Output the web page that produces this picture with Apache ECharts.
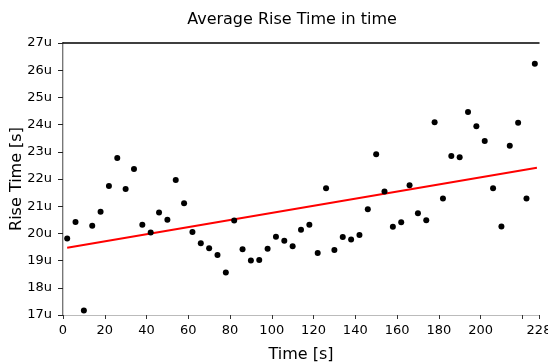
<!DOCTYPE html>
<html>
<head>
<meta charset="utf-8">
<script src="https://cdn.jsdelivr.net/npm/echarts@6/dist/echarts.min.js"></script>
<style>
  html, body { margin: 0; padding: 0; background: #fff; }
  #chart { width: 548px; height: 363px; }
</style>
</head>
<body>
<div id="chart"></div>
<script>
// measured points, time in s, rise time in microseconds
var times = [2, 6, 10, 14, 18, 22, 26, 30, 34, 38, 42, 46, 50, 54, 58, 62, 66, 70, 74, 78,
  82, 86, 90, 94, 98, 102, 106, 110, 114, 118, 122, 126, 130, 134, 138, 142, 146, 150, 154, 158,
  162, 166, 170, 174, 178, 182, 186, 190, 194, 198, 202, 206, 210, 214, 218, 222, 226];
var riseTimes = [19.81, 20.42, 17.17, 20.28, 20.80, 21.74, 22.77, 21.63, 22.37, 20.32, 20.03, 20.77,
  20.50, 21.96, 21.11, 20.05, 19.64, 19.45, 19.21, 18.56, 20.47, 19.42, 19.00, 19.02, 19.44,
  19.88, 19.73, 19.53, 20.13, 20.32, 19.28, 21.66, 19.39, 19.87, 19.78, 19.94, 20.89, 22.91,
  21.54, 20.24, 20.41, 21.77, 20.74, 20.48, 24.09, 21.28, 22.85, 22.80, 24.46, 23.94, 23.40,
  21.66, 20.25, 23.22, 24.07, 21.28, 26.24];
// fitted trend line end points
var trendX = [2, 227];
var trendY = [19.47, 22.41];
var xTicks = [0, 20, 40, 60, 80, 100, 120, 140, 160, 180, 200, 220, 228];
var xLabels = [0, 20, 40, 60, 80, 100, 120, 140, 160, 180, 200, 228];

var chart = echarts.init(document.getElementById('chart'));
var font = 'DejaVu Sans';

chart.setOption({
  animation: false,
  title: {
    text: 'Average Rise Time in time',
    left: 287,
    textAlign: 'center',
    top: 7,
    textStyle: { fontFamily: font, fontSize: 16, fontWeight: 'normal', color: '#000' }
  },
  grid: { left: 63, right: 9, top: 43, bottom: 48, outerBoundsMode: 'none', containLabel: false },
  xAxis: [{
    type: 'value',
    min: 0,
    max: 228,
    interval: 20,
    name: 'Time [s]',
    nameLocation: 'middle',
    nameGap: 32,
    nameMoveOverlap: false,
    nameTextStyle: { fontFamily: font, fontSize: 16, color: '#000' },
    axisLine: { onZero: false, lineStyle: { color: '#bbb', width: 1 } },
    axisTick: { customValues: xTicks, length: 4, lineStyle: { color: '#333' } },
    axisLabel: { customValues: xLabels, fontFamily: font, fontSize: 13, color: '#000', margin: 9 },
    splitLine: { show: false }
  }, {
    type: 'value',
    position: 'top',
    min: 0,
    max: 228,
    axisLine: { show: true, lineStyle: { color: '#000', width: 1.5 } },
    axisTick: { show: false },
    axisLabel: { show: false },
    splitLine: { show: false }
  }],
  yAxis: [{
    type: 'value',
    min: 17,
    max: 27,
    interval: 1,
    name: 'Rise Time [s]',
    nameLocation: 'middle',
    nameGap: 38,
    nameMoveOverlap: false,
    nameTextStyle: { fontFamily: font, fontSize: 16, color: '#000' },
    axisLine: { show: true, onZero: false, lineStyle: { color: '#777', width: 2 } },
    axisTick: { show: true, length: 5, lineStyle: { color: '#222', width: 1 } },
    axisLabel: { formatter: '{value}u', fontFamily: font, fontSize: 13, color: '#000', margin: 11 },
    splitLine: { show: false }
  }, {
    type: 'value',
    position: 'right',
    min: 17,
    max: 27,
    axisLine: { show: true, lineStyle: { color: '#ccc', width: 1 } },
    axisTick: { show: false },
    axisLabel: { show: false },
    splitLine: { show: false }
  }],
  series: [{
    type: 'scatter',
    data: times.map(function (t, i) { return [t, riseTimes[i]]; }),
    symbolSize: 6,
    itemStyle: { color: '#000', opacity: 1 },
    z: 3
  }, {
    type: 'line',
    data: trendX.map(function (t, i) { return [t, trendY[i]]; }),
    symbol: 'none',
    lineStyle: { color: '#ff0000', width: 2 },
    z: 2
  }]
});
</script>
</body>
</html>
